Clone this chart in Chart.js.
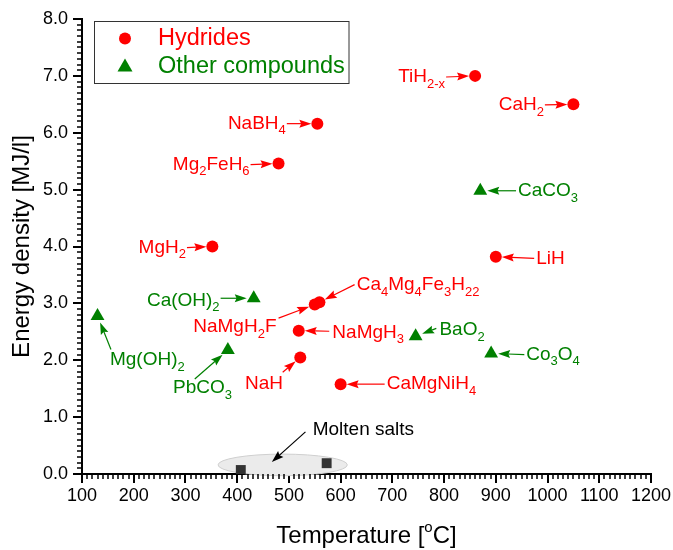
<!DOCTYPE html>
<html>
<head>
<meta charset="utf-8">
<script src="https://cdn.jsdelivr.net/npm/chart.js@4.4.0/dist/chart.umd.min.js"></script>
<style>
html,body{margin:0;padding:0;background:#fff;}
#wrap{width:673px;height:550px;position:relative;}
</style>
</head>
<body>
<div id="wrap"><canvas id="c" width="673" height="550"></canvas></div>
<script>
// ---------------- data ----------------
const hydrideNames   = ['TiH_{2-x}','CaH_{2}','NaBH_{4}','Mg_{2}FeH_{6}','MgH_{2}','LiH','Ca_{4}Mg_{4}Fe_{3}H_{22}','NaMgH_{2}F','NaMgH_{3}','NaH','CaMgNiH_{4}'];
const hydrideTemp    = [860, 1050, 555, 480, 352, 900, 559, 550, 519, 522, 600];
const hydrideDensity = [7.0, 6.5, 6.16, 5.46, 4.0, 3.82, 3.02, 2.98, 2.52, 2.05, 1.58];

const otherNames   = ['CaCO_{3}','Ca(OH)_{2}','Mg(OH)_{2}','PbCO_{3}','BaO_{2}','Co_{3}O_{4}'];
const otherTemp    = [870, 432, 130, 382, 745, 891];
const otherDensity = [4.98, 3.09, 2.78, 2.18, 2.42, 2.12];

const moltenTemp    = [407, 573];
const moltenDensity = [0.07, 0.19];

const xTicks = [100,200,300,400,500,600,700,800,900,1000,1100,1200];
const yTicks = [0,1,2,3,4,5,6,7,8];

// ---------------- annotation layout (label anchor, alignment, optional arrow start) ----------------
const hydrideLabelLayout = [
  {at:[802,6.98], align:'right'},
  {at:[993,6.49], align:'right'},
  {at:[494,6.16], align:'right'},
  {at:[424,5.44], align:'right'},
  {at:[301,3.98], align:'right'},
  {at:[978,3.79], align:'left'},
  {at:[631,3.32], align:'left', from:[627,3.33]},
  {at:[476,2.58], align:'right', from:[480,2.74]},
  {at:[584,2.49], align:'left', from:[578,2.51]},
  {at:[415,1.58], align:'left', from:[488,1.79]},
  {at:[689,1.58], align:'left'}
];
const otherLabelLayout = [
  {at:[943,4.98], align:'left'},
  {at:[366,3.05], align:'right', from:[368,3.09]},
  {at:[154,2.0], align:'left', from:[156,2.19]},
  {at:[276,1.51], align:'left', from:[318,1.67]},
  {at:[791,2.53], align:'left', from:[785,2.56]},
  {at:[959,2.10], align:'left'}
];
const moltenLabel = {text:'Molten salts', at:[546,0.77], from:[532,0.74], to:[467,0.21]};
const moltenEllipse = {cx:488, cy:0.16, rx:125, ry:0.19};

const RED = '#ff0000';
const GREEN = '#008000';
const FONT = '"Liberation Sans", Arial, sans-serif';

// -------- rich text helpers (subscript _{} and superscript ^{}) --------
function parseRich(s){
  const out=[]; let i=0; let buf='';
  while(i<s.length){
    if((s[i]==='_'||s[i]==='^') && s[i+1]==='{'){
      if(buf){out.push({t:buf,k:0});buf='';}
      const j=s.indexOf('}',i);
      out.push({t:s.slice(i+2,j),k:s[i]==='_'?1:-1});
      i=j+1;
    } else {buf+=s[i];i++;}
  }
  if(buf) out.push({t:buf,k:0});
  return out;
}
function richWidth(ctx,parts,size,sub){
  let w=0;
  for(const p of parts){
    ctx.font=(p.k?sub:size)+'px '+FONT;
    w+=ctx.measureText(p.t).width;
  }
  return w;
}
function drawRich(ctx,s,x,y,align,size,sub,color){
  const parts=parseRich(s);
  const w=richWidth(ctx,parts,size,sub);
  let cx = align==='right'? x-w : (align==='center'? x-w/2 : x);
  ctx.save();
  ctx.fillStyle=color; ctx.textBaseline='middle'; ctx.textAlign='left';
  for(const p of parts){
    ctx.font=(p.k?sub:size)+'px '+FONT;
    let dy = p.k===1 ? size*0.38 : (p.k===-1 ? -size*0.35 : 0);
    ctx.fillText(p.t,cx,y+dy);
    cx+=ctx.measureText(p.t).width;
  }
  ctx.restore();
  return w;
}
function arrow(ctx,x1,y1,x2,y2,color,headLen,headW){
  const a=Math.atan2(y2-y1,x2-x1);
  const c=Math.cos(a), s=Math.sin(a);
  ctx.save();
  ctx.strokeStyle=color; ctx.fillStyle=color; ctx.lineWidth=1.2;
  ctx.beginPath(); ctx.moveTo(x1,y1);
  ctx.lineTo(x2-c*headLen*0.8,y2-s*headLen*0.8); ctx.stroke();
  ctx.beginPath();
  ctx.moveTo(x2,y2);
  ctx.lineTo(x2-c*headLen+s*headW, y2-s*headLen-c*headW);
  ctx.lineTo(x2-c*headLen*0.85, y2-s*headLen*0.85);
  ctx.lineTo(x2-c*headLen-s*headW, y2-s*headLen+c*headW);
  ctx.closePath(); ctx.fill();
  ctx.restore();
}

const decorPlugin = {
  id:'decor',
  beforeDatasetsDraw(chart){
    const ctx=chart.ctx, xs=chart.scales.x, ys=chart.scales.y;
    const cx=xs.getPixelForValue(moltenEllipse.cx), cy=ys.getPixelForValue(moltenEllipse.cy);
    const rx=Math.abs(xs.getPixelForValue(moltenEllipse.cx+moltenEllipse.rx)-cx);
    const ry=Math.abs(ys.getPixelForValue(moltenEllipse.cy+moltenEllipse.ry)-cy);
    ctx.save();
    ctx.beginPath(); ctx.ellipse(cx,cy,rx,ry,0,0,Math.PI*2);
    ctx.fillStyle='#ebebeb'; ctx.fill();
    ctx.strokeStyle='#cfcfcf'; ctx.lineWidth=1; ctx.stroke();
    ctx.restore();
  },
  afterDraw(chart){
    const ctx=chart.ctx, xs=chart.scales.x, ys=chart.scales.y;
    const ca=chart.chartArea;
    const left=ca.left, bottom=ca.bottom;
    // minor ticks (outward, shorter than the major ones)
    ctx.save();
    ctx.fillStyle='#000000';
    for(let v=110; v<1200; v+=10){
      if(v%100===0) continue;
      const px=Math.round(xs.getPixelForValue(v));
      ctx.fillRect(px-0.75,bottom,1.5,5);
    }
    for(let k=1; k<80; k++){
      if(k%10===0) continue;
      const py=Math.round(ys.getPixelForValue(k/10));
      ctx.fillRect(left-5,py-0.75,5,1.5);
    }
    ctx.restore();
    // annotations
    const groups=[
      {names:hydrideNames, xs:hydrideTemp, ys:hydrideDensity, lay:hydrideLabelLayout, color:RED, r:6},
      {names:otherNames, xs:otherTemp, ys:otherDensity, lay:otherLabelLayout, color:GREEN, r:7}
    ];
    for(const g of groups){
      g.names.forEach((name,i)=>{
        const L=g.lay[i];
        const tx=xs.getPixelForValue(L.at[0]), ty=ys.getPixelForValue(L.at[1]);
        drawRich(ctx,name,tx,ty,L.align,19,13,g.color);
        let sx,sy;
        if(L.from){ sx=xs.getPixelForValue(L.from[0]); sy=ys.getPixelForValue(L.from[1]); }
        else { sx = L.align==='right'? tx+1 : tx-2; sy=ty; }
        const px=xs.getPixelForValue(g.xs[i]), py=ys.getPixelForValue(g.ys[i]);
        const a=Math.atan2(py-sy,px-sx);
        const ex=px-Math.cos(a)*g.r, ey=py-Math.sin(a)*g.r;
        arrow(ctx,sx,sy,ex,ey,g.color,12,4);
      });
    }
    // molten salts label
    drawRich(ctx,moltenLabel.text,xs.getPixelForValue(moltenLabel.at[0]),ys.getPixelForValue(moltenLabel.at[1]),'left',19,13,'#000');
    arrow(ctx,xs.getPixelForValue(moltenLabel.from[0]),ys.getPixelForValue(moltenLabel.from[1]),
      xs.getPixelForValue(moltenLabel.to[0]),ys.getPixelForValue(moltenLabel.to[1]),'#000',12,4);
    // legend
    ctx.save();
    ctx.strokeStyle='#333'; ctx.lineWidth=1;
    ctx.strokeRect(94.5,21.5,254.5,62);
    ctx.fillStyle=RED; ctx.beginPath(); ctx.arc(125,38.5,6,0,Math.PI*2); ctx.fill();
    ctx.fillStyle=GREEN; ctx.beginPath(); ctx.moveTo(125,58.5); ctx.lineTo(132.5,71.5); ctx.lineTo(117.5,71.5); ctx.closePath(); ctx.fill();
    ctx.restore();
    drawRich(ctx,'Hydrides',158,39,'left',23.5,15,RED);
    drawRich(ctx,'Other compounds',158,67,'left',23.5,15,GREEN);
    // axis titles
    drawRich(ctx,'Temperature [^{o}C]',(xs.left+xs.right)/2,536,'center',24,15,'#000');
    ctx.save();
    ctx.translate(22,(ys.top+ys.bottom)/2);
    ctx.rotate(-Math.PI/2);
    drawRich(ctx,'Energy density [MJ/l]',0,0,'center',24,15,'#000');
    ctx.restore();
  }
};

const toPts=(xa,ya)=>xa.map((x,i)=>({x:x,y:ya[i]}));

new Chart(document.getElementById('c'),{
  type:'scatter',
  data:{datasets:[
    {label:'Hydrides', data:toPts(hydrideTemp,hydrideDensity), pointStyle:'circle', pointRadius:6, pointHoverRadius:6, backgroundColor:RED, borderColor:RED, borderWidth:0},
    {label:'Other compounds', data:toPts(otherTemp,otherDensity), pointStyle:'triangle', pointRadius:8, pointHoverRadius:8, backgroundColor:GREEN, borderColor:GREEN, borderWidth:0},
    {label:'Molten salts', data:toPts(moltenTemp,moltenDensity), pointStyle:'rect', pointRadius:7, pointHoverRadius:7, backgroundColor:'#333', borderColor:'#333', borderWidth:0}
  ]},
  options:{
    responsive:false, animation:false, devicePixelRatio:1,
    layout:{padding:{top:19,right:21,left:0,bottom:0}},
    plugins:{legend:{display:false}, tooltip:{enabled:false}},
    scales:{
      x:{type:'linear', min:100, max:1200,
        afterBuildTicks:(s)=>{s.ticks=xTicks.map(v=>({value:v}));},
        afterFit:(s)=>{s.height=76;},
        ticks:{color:'#000', font:{family:FONT,size:18}, padding:2, maxRotation:0, autoSkip:false, callback:(v)=>String(v)},
        grid:{drawOnChartArea:false, drawTicks:true, tickLength:9, color:'#000', lineWidth:2},
        border:{color:'#000', width:2},
        title:{display:false}
      },
      y:{type:'linear', min:0, max:8,
        afterBuildTicks:(s)=>{s.ticks=yTicks.map(v=>({value:v}));},
        afterFit:(s)=>{s.width=82;},
        ticks:{color:'#000', font:{family:FONT,size:18}, padding:5, autoSkip:false, callback:(v)=>Number(v).toFixed(1)},
        grid:{drawOnChartArea:false, drawTicks:true, tickLength:9, color:'#000', lineWidth:2},
        border:{color:'#000', width:2},
        title:{display:false}
      }
    }
  },
  plugins:[decorPlugin]
});
</script>
</body>
</html>
